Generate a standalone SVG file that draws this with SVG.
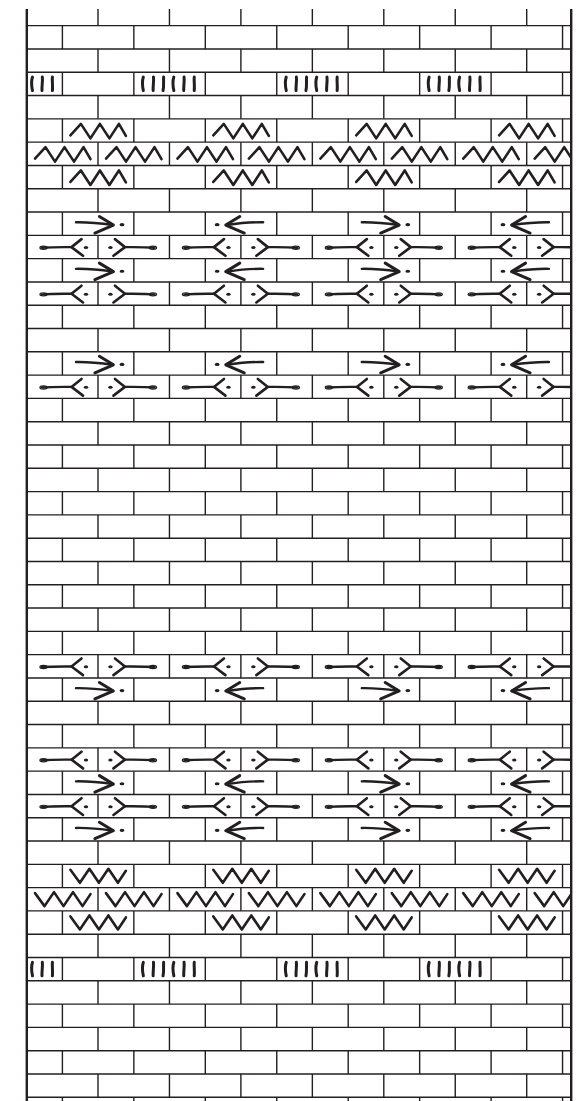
<svg xmlns="http://www.w3.org/2000/svg" xmlns:xlink="http://www.w3.org/1999/xlink" width="585" height="1101" viewBox="0 0 585 1101">
<style>
.ln{fill:none;stroke:#231f20;stroke-width:1.4}
.bd{fill:none;stroke:#231f20;stroke-width:2.4}
.gl{fill:none;stroke:#231f20;stroke-width:2.6;stroke-linecap:round;stroke-linejoin:round}
.tk{fill:none;stroke:#231f20;stroke-width:3;stroke-linecap:round}
.dt{fill:#231f20}
.ov{fill:none;stroke:#231f20;stroke-width:1.2}
</style>
<defs>
<clipPath id="cp"><rect x="27" y="9" width="544" height="1092"/></clipPath>
<path id="pair" class="ln" d="M98,0V23.3M169.45,0V23.3M240.9,0V23.3M312.35,0V23.3M383.8,0V23.3M455.25,0V23.3M526.7,0V23.3M62.4,23.3V46.6M133.85,23.3V46.6M205.3,23.3V46.6M276.75,23.3V46.6M348.2,23.3V46.6M419.65,23.3V46.6M491.1,23.3V46.6M562.55,23.3V46.6"/>
<path id="zz" class="gl" d="M8,16.5 L18.5,5 L28,19.5 L37.5,5 L47,19.5 L56.5,5 L63.5,17"/>
<path id="zv" class="gl" d="M8,5.5 L17.5,18.5 L27,4.5 L36.5,18.5 L46,4.5 L55.5,18.5 L63.5,6.5"/>
<g id="ar">
<path class="gl" style="stroke-width:2.4" d="M13.6,10.2 C24,10 38,11.2 50.5,13"/>
<path class="gl" style="stroke-width:3" d="M37,4.5 L51,13 L32.5,21"/>
<ellipse class="dt" cx="59.6" cy="12.6" rx="2.4" ry="1.6"/>
</g>
<g id="br">
<path class="gl" style="stroke-width:2.4" d="M15,12.4 C26,11.6 36,11.8 44.5,11.8"/>
<ellipse class="ov" cx="16.5" cy="12.4" rx="3.6" ry="1.6"/>
<path class="gl" d="M54.5,3.8 L44.5,11.8 L56,20.5"/>
<ellipse class="dt" cx="59" cy="12.2" rx="2.2" ry="1.5"/>
</g>
<path id="t3" class="tk" d="M5.5,4.8c-1,3 -1,9 0,13.5M15.3,4.8c0.6,4 -0.6,9 -0.3,13.5M25.4,4.8c-0.4,4 0.5,9 0,13.5"/>
<path id="t6" class="tk" d="M9.5,4.8c-1,3 -1,9 0,13.5M19.6,4.8c0.6,4 -0.6,9 -0.3,13.5M29.8,4.8c-0.4,4 0.5,9 -0.6,13.5M40,4.8c-1,3 -1,9 0,13.5M50.2,4.8c0.6,4 -0.6,9 -0.3,13.5M60.4,4.8c-0.4,4 0.5,9 0,13.5"/>
<g id="rowAr"><use href="#ar" x="62.4"/><use href="#ar" transform="translate(276.75,0) scale(-1,1)"/><use href="#ar" x="348.2"/><use href="#ar" transform="translate(562.55,0) scale(-1,1)"/></g>
<g id="rowBr"><use href="#br" x="27"/><use href="#br" transform="translate(169.45,0) scale(-1,1)"/><use href="#br" x="169.45"/><use href="#br" transform="translate(312.35,0) scale(-1,1)"/><use href="#br" x="312.35"/><use href="#br" transform="translate(455.25,0) scale(-1,1)"/><use href="#br" x="455.25"/><use href="#br" transform="translate(598.15,0) scale(-1,1)"/></g>
<g id="rowZzB"><use href="#zz" x="62.4"/><use href="#zz" x="205.3"/><use href="#zz" x="348.2"/><use href="#zz" x="491.1"/></g>
<g id="rowZzA"><use href="#zz" x="27"/><use href="#zz" x="98"/><use href="#zz" x="169.45"/><use href="#zz" x="240.9"/><use href="#zz" x="312.35"/><use href="#zz" x="383.8"/><use href="#zz" x="455.25"/><use href="#zz" x="526.7"/></g>
<g id="rowZvB"><use href="#zv" x="62.4"/><use href="#zv" x="205.3"/><use href="#zv" x="348.2"/><use href="#zv" x="491.1"/></g>
<g id="rowZvA"><use href="#zv" x="27"/><use href="#zv" x="98"/><use href="#zv" x="169.45"/><use href="#zv" x="240.9"/><use href="#zv" x="312.35"/><use href="#zv" x="383.8"/><use href="#zv" x="455.25"/><use href="#zv" x="526.7"/></g>
<g id="rowT"><use href="#t3" x="27"/><use href="#t6" x="133.85"/><use href="#t6" x="276.75"/><use href="#t6" x="419.65"/></g>
</defs>
<rect width="585" height="1101" fill="#fff"/>
<g id="joints" clip-path="url(#cp)">
<use href="#pair" y="2.374"/><use href="#pair" y="48.966"/><use href="#pair" y="95.558"/><use href="#pair" y="142.15"/><use href="#pair" y="188.742"/><use href="#pair" y="235.334"/><use href="#pair" y="281.926"/><use href="#pair" y="328.518"/><use href="#pair" y="375.11"/><use href="#pair" y="421.702"/><use href="#pair" y="468.294"/><use href="#pair" y="514.886"/><use href="#pair" y="561.478"/><use href="#pair" y="608.07"/><use href="#pair" y="654.662"/><use href="#pair" y="701.254"/><use href="#pair" y="747.846"/><use href="#pair" y="794.438"/><use href="#pair" y="841.03"/><use href="#pair" y="887.622"/><use href="#pair" y="934.214"/><use href="#pair" y="980.806"/><use href="#pair" y="1027.398"/><use href="#pair" y="1073.99"/>
</g>
<path id="courses" class="ln" d="M27,25.67H571M27,48.97H571M27,72.26H571M27,95.56H571M27,118.85H571M27,142.15H571M27,165.45H571M27,188.74H571M27,212.04H571M27,235.33H571M27,258.63H571M27,281.93H571M27,305.22H571M27,328.52H571M27,351.81H571M27,375.11H571M27,398.41H571M27,421.7H571M27,445H571M27,468.29H571M27,491.59H571M27,514.89H571M27,538.18H571M27,561.48H571M27,584.77H571M27,608.07H571M27,631.37H571M27,654.66H571M27,677.96H571M27,701.25H571M27,724.55H571M27,747.85H571M27,771.14H571M27,794.44H571M27,817.73H571M27,841.03H571M27,864.33H571M27,887.62H571M27,910.92H571M27,934.21H571M27,957.51H571M27,980.81H571M27,1004.1H571M27,1027.4H571M27,1050.69H571M27,1073.99H571M27,1097.29H571"/>
<g id="glyphs" clip-path="url(#cp)">
<use href="#rowT" y="72.26"/>
<use href="#rowZzB" y="118.85"/>
<use href="#rowZzA" y="142.15"/>
<use href="#rowZzB" y="165.45"/>
<use href="#rowAr" y="212.04"/>
<use href="#rowBr" y="235.33"/>
<use href="#rowAr" y="258.63"/>
<use href="#rowBr" y="281.93"/>
<use href="#rowAr" y="351.81"/>
<use href="#rowBr" y="375.11"/>
<use href="#rowBr" y="654.66"/>
<use href="#rowAr" y="677.96"/>
<use href="#rowBr" y="747.85"/>
<use href="#rowAr" y="771.14"/>
<use href="#rowBr" y="794.44"/>
<use href="#rowAr" y="817.73"/>
<use href="#rowZvB" y="864.33"/>
<use href="#rowZvA" y="887.62"/>
<use href="#rowZvB" y="910.92"/>
<use href="#rowT" y="957.51"/>
</g>
<path id="frame" class="bd" d="M26.8,9V1101M571.2,9V1101"/>
</svg>
